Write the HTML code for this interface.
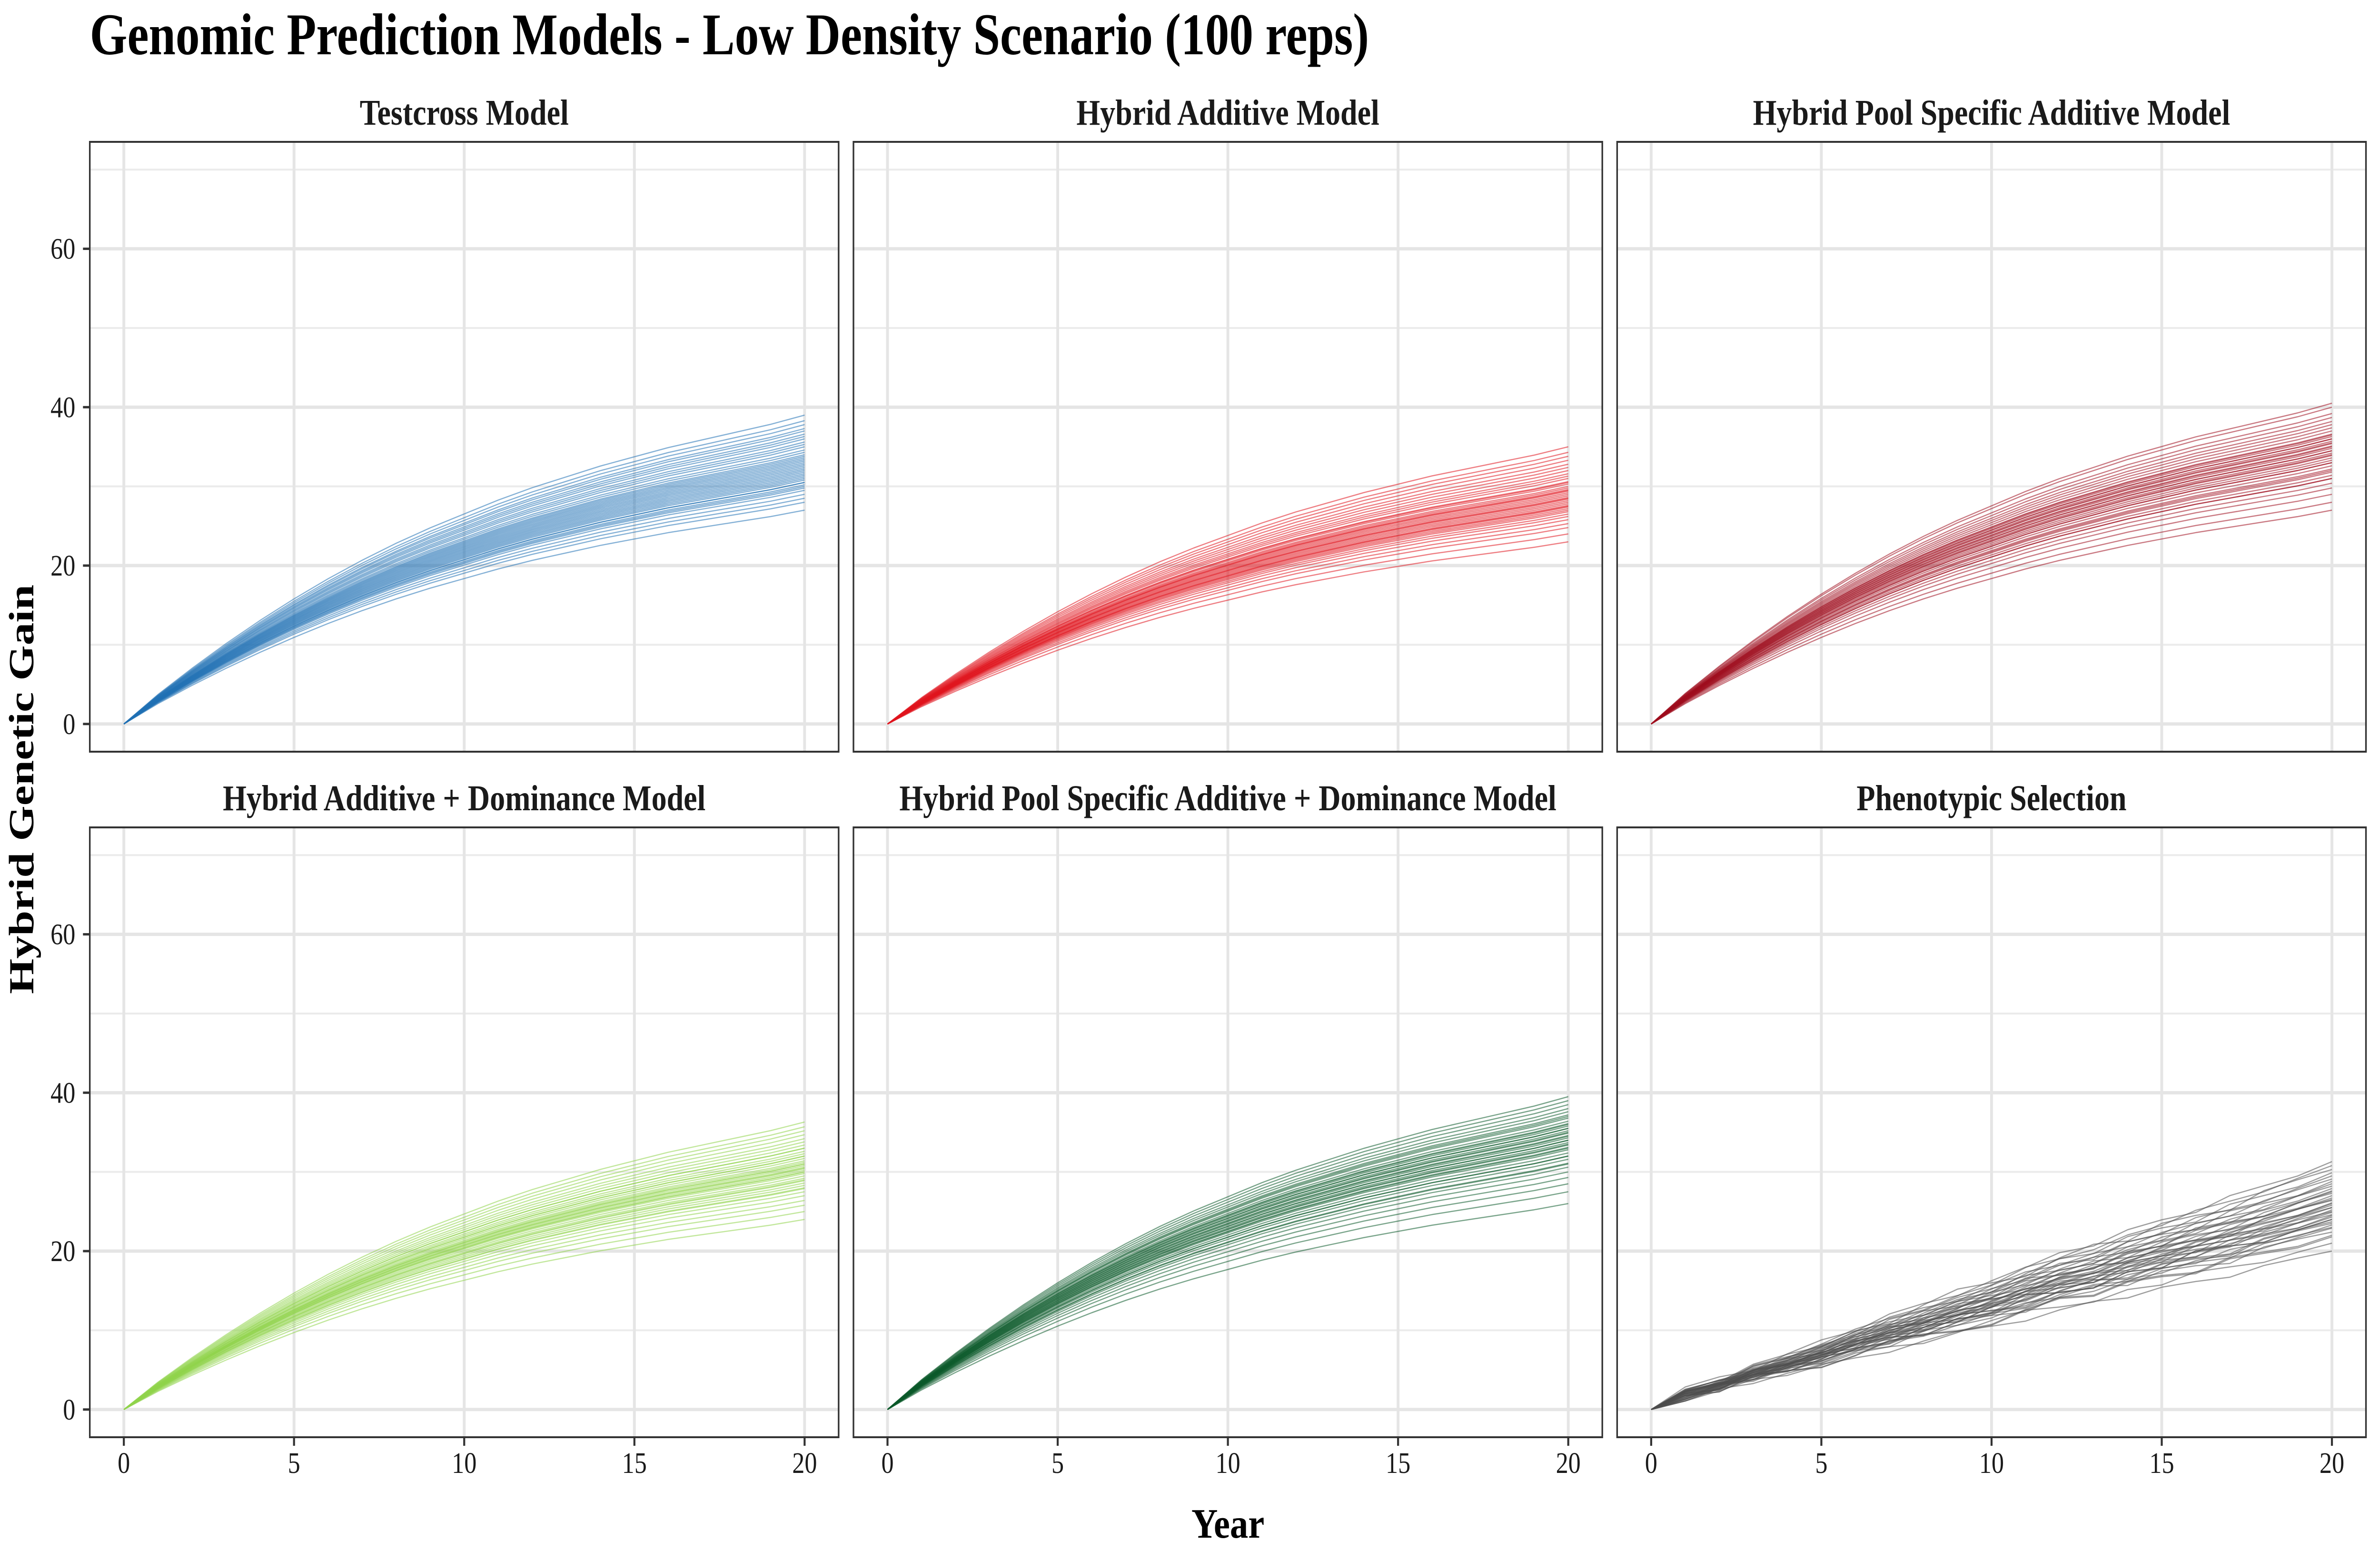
<!DOCTYPE html>
<html><head><meta charset="utf-8"><title>Genomic Prediction Models - Low Density Scenario</title>
<style>
html,body{margin:0;padding:0;background:#fff;width:100%;height:100%;overflow:hidden;}
svg{display:block;position:absolute;left:0;top:0;width:100vw;height:100vh;}
text{font-family:"Liberation Serif","DejaVu Serif",serif;}
</style></head>
<body>
<svg id="chart" xmlns="http://www.w3.org/2000/svg" viewBox="0 0 5937 3237" preserveAspectRatio="none">
<rect x="0" y="0" width="5937" height="3237" fill="#fff"/>
<text x="224" y="114" font-size="124" font-weight="bold" fill="#000" textLength="3191" lengthAdjust="spacingAndGlyphs">Genomic Prediction Models - Low Density Scenario (100 reps)</text>
<text x="3063" y="3230" font-size="88" font-weight="bold" fill="#000" text-anchor="middle" textLength="182" lengthAdjust="spacingAndGlyphs">Year</text>
<text transform="translate(83,1658) rotate(-90)" font-size="88" font-weight="bold" fill="#000" text-anchor="middle" textLength="860" lengthAdjust="spacingAndGlyphs">Hybrid Genetic Gain</text>
<g id="panels"></g>
</svg>
<script>
// ---- data ----
const years = [0,1,2,3,4,5,6,7,8,9,10,11,12,13,14,15,16,17,18,19,20];
const xTicks = [0,5,10,15,20];
const yTicks = [0,20,40,60];
const yMinor = [10,30,50,70];
const panelTitles = ["Testcross Model","Hybrid Additive Model","Hybrid Pool Specific Additive Model","Hybrid Additive + Dominance Model","Hybrid Pool Specific Additive + Dominance Model","Phenotypic Selection"];
const panelColors = ["#2171b5","#e0141e","#9e0d1e","#8fd44a","#0b5a2a","#4d4d4d"];
// mean trajectory shape (fraction of final gain) per year
const shapeGenomic = [0,0.095,0.18,0.26,0.335,0.405,0.47,0.53,0.585,0.635,0.68,0.725,0.765,0.80,0.835,0.865,0.895,0.92,0.945,0.97,1.0];
const shapePheno = [0,0.07,0.12,0.17,0.22,0.27,0.32,0.37,0.42,0.47,0.52,0.57,0.62,0.665,0.71,0.76,0.805,0.85,0.9,0.95,1.0];
// per-year wobble patterns for phenotypic reps (gain units)
const phenoWobble = [
 [0,0.6,0.4,-0.2,0.3,0.5,0.2,-0.3,0.4,0.8,0.2,-0.4,0.3,0.6,-0.2,0.4,0.1,-0.5,0.3,0.2,0],
 [0,-0.5,-0.2,0.3,-0.4,-0.1,0.5,0.2,-0.6,-0.2,0.4,0.7,-0.1,-0.5,0.3,-0.3,0.6,0.2,-0.4,-0.1,0],
 [0,0.2,-0.4,0.5,0.1,-0.6,-0.2,0.6,0.3,-0.4,-0.7,0.1,0.5,-0.2,0.6,0.2,-0.4,0.5,0.1,-0.3,0]
];
// final (year 20) gains per plotted rep
const endTestcross = [27,28,28.5,29,29.5,29.8,30,30.2,30.5,30.8,31,31.2,31.4,31.6,31.8,32,32.2,32.4,32.6,32.8,33,33.2,33.4,33.6,33.8,34,34.3,34.6,35,35.3,35.6,36,36.3,36.6,37,37.3,37.8,38.3,39,30.5];
const endHA = [23,24,24.8,25.3,25.8,26.2,26.5,26.8,27,27.2,27.4,27.6,27.8,28,28.2,28.4,28.6,28.8,29,29.2,29.4,29.6,29.8,30,30.3,30.6,31,31.3,31.6,32,32.4,32.8,33.3,33.8,34.3,35,27.5,28.5,29.5,30.5];
const endHPSA = [27,28,29,29.8,30.4,31,31.4,31.8,32.2,32.6,33,33.3,33.6,33.9,34.2,34.5,34.8,35.1,35.4,35.7,36,36.3,36.6,37,37.4,37.8,38.2,38.7,39.2,40,40.5,33,34,35,36,32,31,34.5,35.5,36.5];
const endHAD = [24,25,25.8,26.4,27,27.5,27.9,28.3,28.6,28.9,29.2,29.5,29.8,30,30.2,30.4,30.6,30.8,31,31.2,31.4,31.7,32,32.3,32.6,33,33.4,33.8,34.2,34.7,35.2,35.7,36.3,30,31,29,28,32,33,30.5];
const endHPSAD = [26,27.5,28.5,29.3,30,30.6,31.1,31.6,32,32.4,32.8,33.1,33.4,33.7,34,34.3,34.6,34.9,35.2,35.5,35.8,36.1,36.4,36.8,37.2,37.6,38,38.5,39,39.5,33,34,35,36,32,31,33.5,34.5,35.5,37];
const endPheno = [20,21,21.8,22.4,22.9,23.3,23.7,24,24.3,24.6,24.9,25.2,25.5,25.8,26.1,26.4,26.7,27,27.3,27.6,27.9,28.2,28.5,28.8,29.1,29.5,29.9,30.3,30.8,31.3,25,24,26,23,25.5,24.5,26.5,27.5,22,23.5];

const endArrays = [endTestcross,endHA,endHPSA,endHAD,endHPSAD,endPheno];

// ---- layout ----
const colX = [224,2129,4034];
const rowY = [298,1738];
const PW = 1868, PH = 1281;
const xMin=-1, xMax=21, yMin=-3.5, yMax=73.5;
const NS='http://www.w3.org/2000/svg';
const root = document.getElementById('panels');
function mk(tag, attrs, parent){
  const e=document.createElementNS(NS,tag);
  for(const k in attrs) e.setAttribute(k,attrs[k]);
  parent.appendChild(e); return e;
}
for(let p=0;p<6;p++){
  const c=p%3, r=Math.floor(p/3);
  const L=colX[c], T=rowY[r];
  const sx=v=>L+(v-xMin)/(xMax-xMin)*PW;
  const sy=v=>T+PH-(v-yMin)/(yMax-yMin)*PH;
  const g=mk('g',{},root);
  
  
  const st=mk('text',{x:L+PW/2,y:T-36,'font-size':76,'font-weight':'bold','text-anchor':'middle',fill:'#1a1a1a'},g);
  
  
  st.textContent=panelTitles[p];
  yMinor.forEach(v=>{const l=mk('line',{x1:L,x2:L+PW,y1:sy(v),y2:sy(v),stroke:'#ebebeb','stroke-width':4},g);
     });
  yTicks.forEach(v=>{const l=mk('line',{x1:L,x2:L+PW,y1:sy(v),y2:sy(v),stroke:'#e5e5e5','stroke-width':7},g);
     });
  xTicks.forEach(v=>{const l=mk('line',{x1:sx(v),x2:sx(v),y1:T,y2:T+PH,stroke:'#e5e5e5','stroke-width':7},g);
     });
  const shape = p===5?shapePheno:shapeGenomic;
  const ends=endArrays[p];
  ends.forEach((e,i)=>{
    const pts=years.map((yr,k)=>{
      let v=shape[k]*e;
      if(p===5) v+=phenoWobble[i%3][k]*(0.6+0.2*(i%4));
      return sx(yr).toFixed(1)+','+sy(v).toFixed(1);
    }).join(' ');
    const pl=mk('polyline',{points:pts,fill:'none',stroke:panelColors[p],'stroke-width':2.5,'stroke-opacity':0.55,'stroke-linejoin':'round'},g);
    
    
  });
  const b=mk('rect',{x:L,y:T,width:PW,height:PH,fill:'none',stroke:'#333','stroke-width':4},g);
  
  
  if(c===0){
    yTicks.forEach(v=>{
      const t=mk('line',{x1:L-17,x2:L,y1:sy(v),y2:sy(v),stroke:'#333','stroke-width':5},g);
       
      const tx=mk('text',{x:L-36,y:sy(v)+21,'font-size':62,'text-anchor':'end',fill:'#1a1a1a'},g);
       
      tx.textContent=v;
    });
  }
  if(r===1){
    xTicks.forEach(v=>{
      const t=mk('line',{x1:sx(v),x2:sx(v),y1:T+PH,y2:T+PH+18,stroke:'#333','stroke-width':5},g);
       
      const tx=mk('text',{x:sx(v),y:3094,'font-size':62,'text-anchor':'middle',fill:'#1a1a1a'},g);
       
      tx.textContent=v;
    });
  }
}
</script>
</body></html>
